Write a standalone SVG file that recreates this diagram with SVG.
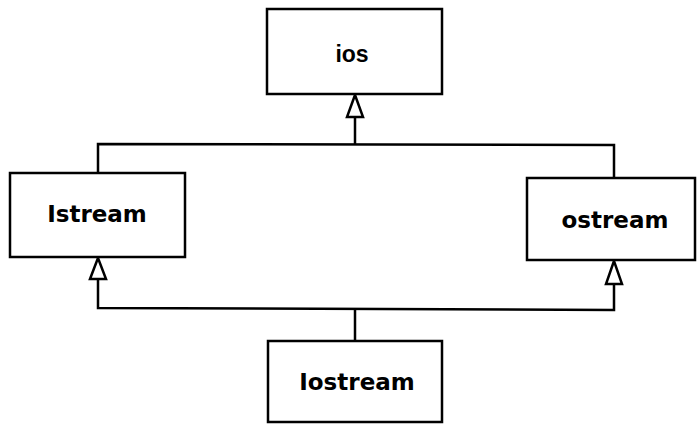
<svg xmlns="http://www.w3.org/2000/svg" width="697" height="425" viewBox="0 0 697 425">
<style>
.box{fill:#fff;stroke:#000;stroke-width:2.5}
.lbl{font-family:"DejaVu Sans",sans-serif;font-weight:bold;font-size:23px;fill:#000;text-anchor:middle}
.ios{font-family:"Liberation Sans",Arial,sans-serif;font-weight:bold;font-size:23px;fill:#000;text-anchor:middle}
.ln{fill:none;stroke:#000;stroke-width:2.5}
.tri{fill:#fff;stroke:#000;stroke-width:2.5;stroke-linejoin:miter}
</style>
<rect width="697" height="425" fill="#fff"/>
<g id="connectors">
<polyline class="ln" points="98,173 98,144 614,145 614,178"/>
<line class="ln" x1="355" y1="144" x2="355" y2="116"/>
<polygon class="tri" points="355,95 347,117 363,117"/>
<polyline class="ln" points="98,279 98,308 614,310 614,284"/>
<line class="ln" x1="355" y1="309" x2="355" y2="341"/>
<polygon class="tri" points="98,258 90,279 106,279"/>
<polygon class="tri" points="614,261 606,284 622,284"/>
</g>
<g id="node-ios">
<rect class="box" x="267" y="9" width="175" height="85"/>
<text class="ios" x="352" y="62">ios</text>
</g>
<g id="node-istream">
<rect class="box" x="10" y="173" width="175" height="84"/>
<text class="lbl" x="97" y="222">Istream</text>
</g>
<g id="node-ostream">
<rect class="box" x="527" y="178" width="168" height="82"/>
<text class="lbl" x="615" y="228">ostream</text>
</g>
<g id="node-iostream">
<rect class="box" x="268" y="341" width="174" height="81"/>
<text class="lbl" x="357" y="390">Iostream</text>
</g>
</svg>
